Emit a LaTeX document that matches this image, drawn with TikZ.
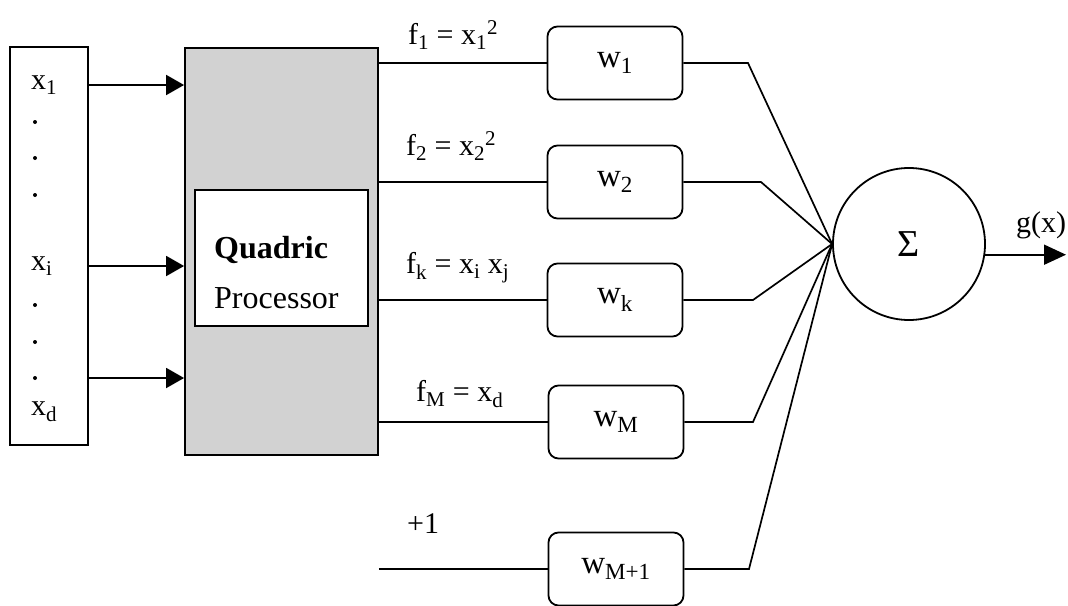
\documentclass[tikz,border=0pt]{standalone}
\usepackage{fontspec}
\setmainfont{Liberation Serif}
\usetikzlibrary{arrows.meta}

\tikzset{
  box/.style={draw, line width=1.8pt, rectangle, inner sep=0pt},
  lbl/.style={font=\fontsize{30}{34}\selectfont, inner sep=0pt},
  wbox/.style={box, lbl, font=\fontsize{33}{36}\selectfont, rounded corners=10pt, minimum width=135pt, minimum height=73pt},
  arr/.style={line width=1.8pt, -{Triangle[length=18pt,width=20pt]}},
  wire/.style={line width=1.7pt},
  dot/.style={circle, fill, inner sep=0pt, minimum size=4pt},
}

\begin{document}
\begin{tikzpicture}[x=1pt,y=-1pt]
\useasboundingbox (0,0) rectangle (1068,605);

% input vector
\node[box, minimum width=78pt, minimum height=398pt] (inbox) at (49,246){};
\node[lbl, anchor=west] (x1) at (31,85){x\textsubscript{1}};
\node[lbl, anchor=west] (xi) at (31,266){x\textsubscript{i}};
\node[lbl, anchor=west] (xd) at (31,412){x\textsubscript{d}};
\foreach \y [count=\i] in {122,158,195,305,342,378}
  \node[dot] (d\i) at (35,\y){};

% quadric processor
\node[box, fill=gray!35, minimum width=193pt, minimum height=407pt] (proc) at (281.5,251.5){};
\node[box, fill=white, minimum width=173pt, minimum height=136pt] (core) at (281.5,258){};
\node[lbl, font=\fontsize{32}{36}\selectfont\bfseries, anchor=west] (qlbl) at (214,250){Quadric};
\node[lbl, font=\fontsize{32}{36}\selectfont, anchor=west] (plbl) at (214,298){Processor};

\draw[arr] (inbox.east |- x1) -- (proc.west |- x1);
\draw[arr] (inbox.east |- xi) -- (proc.west |- xi);
\draw[arr] (inbox.east |- d6) -- (proc.west |- d6);

% weights
\node[wbox] (w1) at (615,63){w\textsubscript{1}};
\node[wbox] (w2) at (615,182){w\textsubscript{2}};
\node[wbox] (wk) at (615,300){w\textsubscript{k}};
\node[wbox] (wM) at (616,422){w\textsubscript{M}};
\node[wbox] (wM1) at (616,569){w\textsubscript{M+1}};

\node[lbl, anchor=base west] (f1) at (408,44){f\textsubscript{1} = x\textsubscript{1}\textsuperscript{2}};
\node[lbl, anchor=base west] (f2) at (406,155){f\textsubscript{2} = x\textsubscript{2}\textsuperscript{2}};
\node[lbl, anchor=base west] (fk) at (406,273){f\textsubscript{k} = x\textsubscript{i} x\textsubscript{j}};
\node[lbl, anchor=base west] (fM) at (416,401){f\textsubscript{M} = x\textsubscript{d}};
\node[lbl, anchor=base west] (one) at (407,533){+1};

\draw[wire] (proc.east |- w1) -- (w1);
\draw[wire] (proc.east |- w2) -- (w2);
\draw[wire] (proc.east |- wk) -- (wk);
\draw[wire] (proc.east |- wM) -- (wM);
\draw[wire] (proc.east |- wM1) -- (wM1);

% summation
\node[lbl, font=\fontsize{38}{40}\selectfont, circle, draw, line width=1.8pt, minimum size=152pt] (sigma) at (909,244){Σ};

\coordinate (b1) at (748,63);
\coordinate (b2) at (761,182);
\coordinate (b3) at (753,300);
\coordinate (b4) at (753,422);
\coordinate (b5) at (749,569);
\draw[wire] (w1) -- (b1) -- (sigma.west);
\draw[wire] (w2) -- (b2) -- (sigma.west);
\draw[wire] (wk) -- (b3) -- (sigma.west);
\draw[wire] (wM) -- (b4) -- (sigma.west);
\draw[wire] (wM1) -- (b5) -- (sigma.west);

\coordinate (gout) at (1066,254);
\draw[line width=1.8pt, -{Triangle[length=22pt,width=20pt]}] (sigma.-8) -- (sigma.-8 -| gout);
\node[lbl] (gx) at (1041,225){g(x)};

\end{tikzpicture}
\end{document}
